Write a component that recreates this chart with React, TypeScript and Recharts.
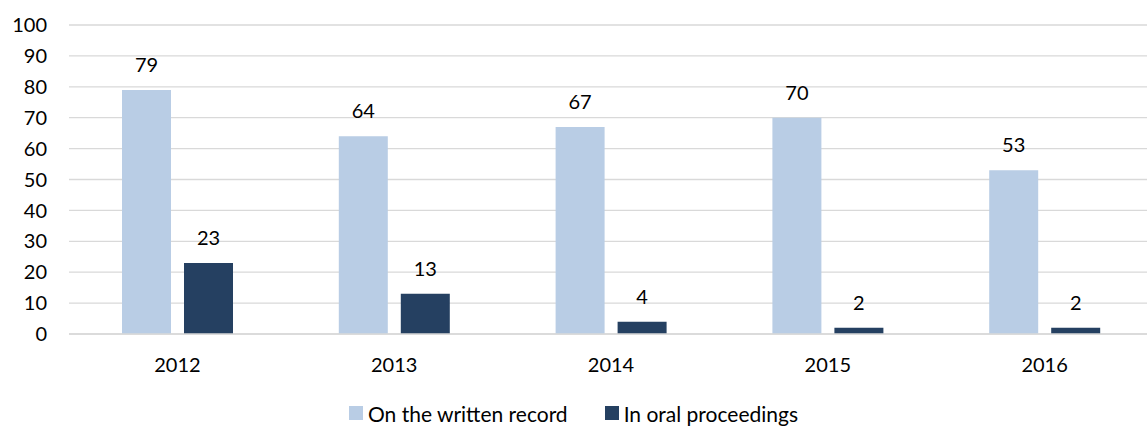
import { BarChart, Bar, XAxis, YAxis, CartesianGrid, Legend, LabelList } from "recharts";

const years = ["2012", "2013", "2014", "2015", "2016"];
const writtenRecord = [79, 64, 67, 70, 53];
const oralProceedings = [23, 13, 4, 2, 2];
const yTicks = [0, 10, 20, 30, 40, 50, 60, 70, 80, 90, 100];

const LIGHT = "#b9cde5";
const DARK = "#254061";
const GRID = "#d9d9d9";
const FONT = "Lato, 'Open Sans', sans-serif";

// series order for the legend (written record first)
const seriesOrder = ["written", "oral"];

const data = years.map((year, i) => ({
  year,
  written: writtenRecord[i],
  oral: oralProceedings[i],
}));

function LegendContent({ payload }: any) {
  return (
    <div
      style={{
        display: "flex",
        justifyContent: "center",
        alignItems: "center",
        height: 26,
        fontFamily: FONT,
        fontSize: 21,
        color: "#000",
      }}
    >
      {(payload || []).map((entry: any, i: number) => (
        <div key={entry.value} style={{ display: "flex", alignItems: "center", marginLeft: i > 0 ? 37 : 0 }}>
          <span style={{ display: "inline-block", width: 14, height: 14, background: entry.color, marginRight: 5 }} />
          <span>{entry.value}</span>
        </div>
      ))}
    </div>
  );
}

export default function App() {
  return (
    <div
      style={{
        position: "fixed",
        top: 0,
        left: 0,
        width: 1147,
        height: 426,
        overflow: "hidden",
        background: "#fff",
      }}
    >
      <BarChart
        width={1160}
        height={426}
        data={data}
        margin={{ top: 25, right: 7, bottom: 0, left: 0 }}
        barSize={49}
        barGap={13}
      >
        <CartesianGrid vertical={false} stroke={GRID} strokeWidth={1.3} />
        <XAxis
          dataKey="year"
          height={66}
          axisLine={{ stroke: GRID, strokeWidth: 1.3 }}
          tickLine={false}
          tickMargin={18}
          tick={{ fontSize: 20, fill: "#000", fontFamily: FONT }}
        />
        <YAxis
          width={69}
          domain={[0, 100]}
          ticks={yTicks}
          axisLine={false}
          tickLine={false}
          tickMargin={16}
          tick={{ fontSize: 20, fill: "#000", fontFamily: FONT }}
        />
        <Legend
          verticalAlign="bottom"
          content={<LegendContent />}
          itemSorter={(item: any) => seriesOrder.indexOf(item.dataKey)}
          wrapperStyle={{ left: 0, width: 1147, bottom: 0, height: 26 }}
        />
        <Bar dataKey="written" name="On the written record" fill={LIGHT} isAnimationActive={false}>
          <LabelList dataKey="written" position="top" offset={18} fill="#000" fontSize={20} fontFamily={FONT} />
        </Bar>
        <Bar dataKey="oral" name="In oral proceedings" fill={DARK} isAnimationActive={false}>
          <LabelList dataKey="oral" position="top" offset={18} fill="#000" fontSize={20} fontFamily={FONT} />
        </Bar>
      </BarChart>
    </div>
  );
}
